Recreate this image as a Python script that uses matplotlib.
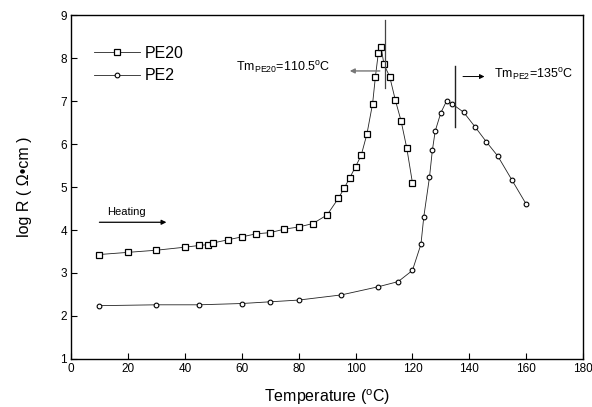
import matplotlib
matplotlib.use("Agg")
import matplotlib.pyplot as plt

plt.rcParams['font.family'] = ['Liberation Sans', 'DejaVu Sans']
plt.rcParams['mathtext.fontset'] = 'custom'
plt.rcParams['mathtext.rm'] = 'Liberation Sans'
plt.rcParams['mathtext.it'] = 'Liberation Sans'

# PE20 series (squares)
pe20_T = [10, 20, 30, 40, 45, 48, 50, 55, 60, 65, 70, 75, 80, 85, 90, 94, 96, 98,
          100, 102, 104, 106, 107, 108, 109, 110, 112, 114, 116, 118, 120]
pe20_logR = [3.43, 3.48, 3.53, 3.60, 3.64, 3.66, 3.70, 3.77, 3.84, 3.91, 3.94, 4.02,
             4.07, 4.15, 4.35, 4.74, 4.97, 5.22, 5.47, 5.74, 6.23, 6.94, 7.57, 8.11,
             8.25, 7.85, 7.57, 7.02, 6.54, 5.91, 5.10]

# PE2 series (circles)
pe2_T = [10, 30, 45, 60, 70, 80, 95, 108, 115, 120, 123, 124, 126, 127, 128, 130,
         132, 134, 138, 142, 146, 150, 155, 160]
pe2_logR = [2.24, 2.26, 2.26, 2.29, 2.33, 2.37, 2.49, 2.68, 2.80, 3.06, 3.67, 4.31,
            5.23, 5.85, 6.30, 6.73, 7.00, 6.93, 6.74, 6.40, 6.05, 5.72, 5.16, 4.60]

x_ticks = [0, 20, 40, 60, 80, 100, 120, 140, 160, 180]
y_ticks = [1, 2, 3, 4, 5, 6, 7, 8, 9]

tm_pe20 = 110.5
tm_pe2 = 135

fig = plt.figure(figsize=(5.92, 4.07), dpi=100)
ax = fig.add_axes([0.12, 0.118, 0.865, 0.845])

ax.plot(pe20_T, pe20_logR, color='#222222', lw=0.6, marker='s', ms=4.5,
        mfc='white', mec='black', mew=0.9, label='PE20')
ax.plot(pe2_T, pe2_logR, color='#222222', lw=0.6, marker='o', ms=3.4,
        mfc='white', mec='black', mew=0.8, label='PE2')

ax.set_xlim(0, 180)
ax.set_ylim(1, 9)
ax.set_xticks(x_ticks)
ax.set_yticks(y_ticks)
ax.tick_params(direction='in', length=4, width=0.8, labelsize=8.5, pad=3)
for s in ax.spines.values():
    s.set_linewidth(1.0)

ax.set_xlabel(r'Temperature ($^{\mathrm{o}}$C)', fontsize=11.5, labelpad=9)
ax.set_ylabel('log R ( \u03a9\u2022cm )', fontsize=11.5, labelpad=20)

leg = ax.legend(loc='upper left', bbox_to_anchor=(0.045, 0.91), frameon=False,
                fontsize=11.5, handlelength=2.9, handletextpad=0.3,
                labelspacing=0.45, borderpad=0, borderaxespad=0)

# Heating arrow
ax.annotate('', xy=(34.5, 4.18), xytext=(9, 4.18),
            arrowprops=dict(arrowstyle='-|>', color='black', lw=0.9,
                            mutation_scale=7))
ax.text(12.7, 4.43, 'Heating', fontsize=8, va='center', ha='left')

# Tm PE20 marker
ax.plot([tm_pe20, tm_pe20], [7.30, 8.88], color='#444444', lw=0.9)
ax.annotate('', xy=(97, 7.70), xytext=(109.5, 7.70),
            arrowprops=dict(arrowstyle='-|>', color='#777777', lw=1.0,
                            mutation_scale=7))
ax.text(91.2, 7.76, r'Tm$_{\mathrm{PE20}}$=110.5$^{\mathrm{o}}$C', fontsize=9,
        va='center', ha='right')

# Tm PE2 marker
ax.plot([tm_pe2, tm_pe2], [6.40, 7.81], color='#222222', lw=1.0)
ax.annotate('', xy=(146.3, 7.57), xytext=(136.8, 7.57),
            arrowprops=dict(arrowstyle='-|>', color='black', lw=0.7,
                            mutation_scale=7))
ax.text(148.5, 7.60, r'Tm$_{\mathrm{PE2}}$=135$^{\mathrm{o}}$C', fontsize=9,
        va='center', ha='left')

fig.savefig('out.png', dpi=100)
